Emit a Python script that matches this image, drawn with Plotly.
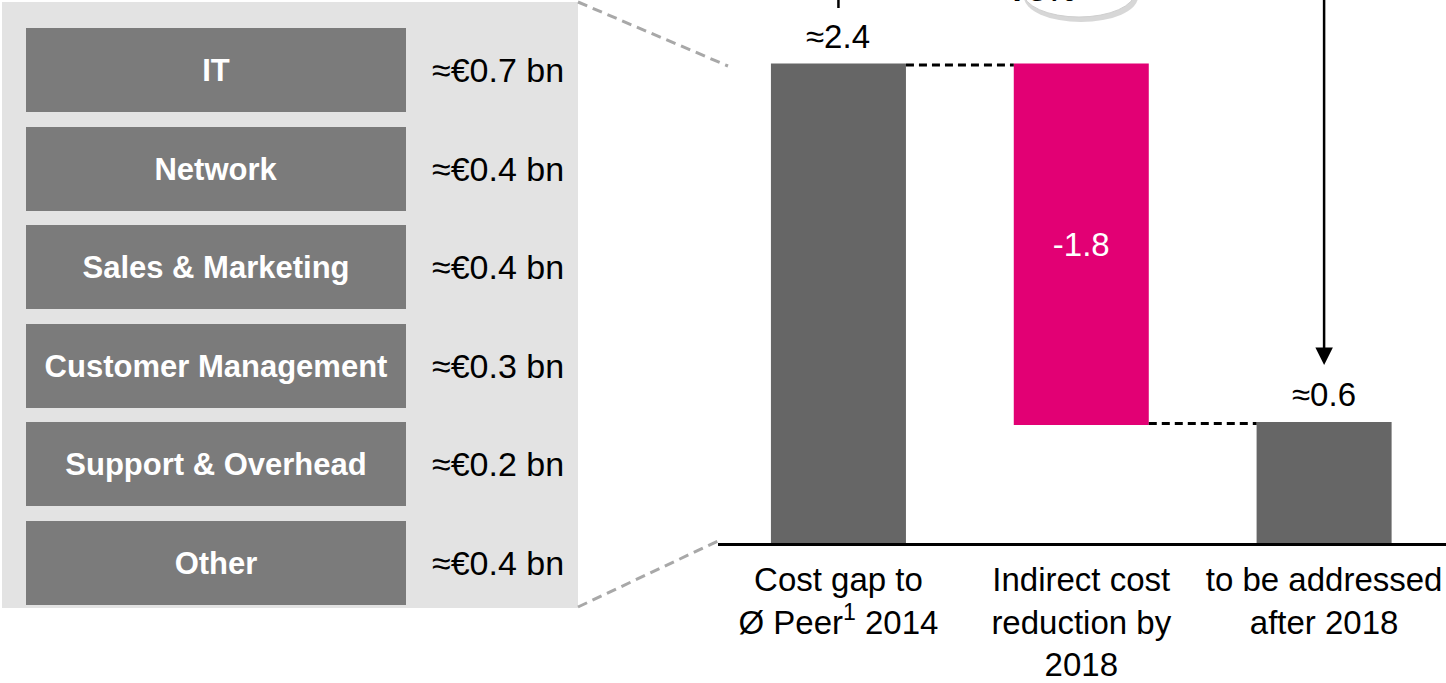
import plotly.graph_objects as go

# left panel: indirect cost gap by area
areas = ["IT", "Network", "Sales & Marketing", "Customer Management", "Support & Overhead", "Other"]
area_gap = ["≈€0.7 bn", "≈€0.4 bn", "≈€0.4 bn", "≈€0.3 bn", "≈€0.2 bn", "≈€0.4 bn"]

# right panel: waterfall (€ bn)
steps = ["Cost gap to<br>Ø Peer<sup>1</sup> 2014", "Indirect cost<br>reduction by<br>2018", "to be addressed<br>after 2018"]
step_values = [2.4, -1.8, 0.6]
step_measure = ["absolute", "relative", "total"]
step_labels = ["≈2.4", "-1.8", "≈0.6"]
share_label = "75%"

W, H = 1446, 683
FONT = "Liberation Sans, Arial, sans-serif"
GREY_BAR = "#666666"
MAGENTA = "#E20074"

fig = go.Figure()

# area tiles (equal size, one per area)
fig.add_trace(go.Bar(
    y=areas, x=[1] * len(areas), orientation="h",
    xaxis="x2", yaxis="y2", width=0.852,
    marker=dict(color="#7B7B7B", line=dict(width=0)),
    text=areas, textposition="inside", insidetextanchor="middle",
    textfont=dict(family=FONT, size=31, color="white", weight="bold"),
    hoverinfo="skip", showlegend=False,
))

fig.add_trace(go.Waterfall(
    x=steps, y=step_values, measure=step_measure,
    width=0.556,
    totals=dict(marker=dict(color=GREY_BAR)),
    decreasing=dict(marker=dict(color=MAGENTA)),
    increasing=dict(marker=dict(color=GREY_BAR)),
    connector=dict(mode="between", line=dict(color="black", width=3, dash="8px,5px")),
    text=step_labels, textposition=["none", "inside", "none"],
    insidetextanchor="middle",
    insidetextfont=dict(family=FONT, size=33, color="white"),
    hoverinfo="skip", showlegend=False,
))

annotations = []
for a, g in zip(areas, area_gap):
    annotations.append(dict(x=1.063, y=a, xref="x2", yref="y2", text=g,
                            showarrow=False, xanchor="left", yanchor="middle",
                            font=dict(family=FONT, size=34, color="black")))

# labels above the grey bars
tops = [step_values[0], None, sum(step_values[:2])]
for i in (0, 2):
    annotations.append(dict(x=steps[i], y=tops[i], xref="x", yref="y", text=step_labels[i],
                            showarrow=False, yanchor="bottom", yshift=8,
                            font=dict(family=FONT, size=33, color="black")))

# arrow down to remaining gap
annotations.append(dict(x=steps[2], y=0.894, xref="x", yref="y",
                        ax=steps[2], ay=2.85, axref="x", ayref="y",
                        text="", showarrow=True, arrowhead=2, arrowsize=1.4,
                        arrowwidth=2.5, arrowcolor="black", standoff=0))

# "75%" bubble (cut off at the top)
annotations.append(dict(x=1078 / W, y=1 + 10 / H, xref="paper", yref="paper", text="<b>" + share_label + "</b>",
                        showarrow=False, yanchor="middle",
                        font=dict(family=FONT, size=33, color="black")))

shapes = [
    # panel background
    dict(type="rect", xref="paper", yref="paper", x0=2 / W, x1=578 / W, y0=1 - 608 / H, y1=1 - 2 / H,
         fillcolor="#E3E3E3", line=dict(width=0), layer="below"),
    # zoom lines
    dict(type="line", xref="paper", yref="paper", x0=578 / W, y0=1 - 2 / H, x1=728 / W, y1=1 - 66 / H,
         line=dict(color="#A8A8A8", width=3, dash="10px,6px")),
    dict(type="line", xref="paper", yref="paper", x0=578 / W, y0=1 - 607 / H, x1=718 / W, y1=1 - 541 / H,
         line=dict(color="#A8A8A8", width=3, dash="10px,6px")),
    # bracket stub above first bar
    dict(type="line", xref="x", yref="paper", x0=steps[0], x1=steps[0], y0=1 - 8 / H, y1=1.01,
         line=dict(color="black", width=2.5)),
    # bubble shadow + bubble
    dict(type="circle", xref="paper", yref="paper", x0=1024 / W, x1=1138 / W, y0=1 - 22 / H, y1=1 + 28 / H,
         fillcolor="rgba(140,140,140,0.35)", line=dict(width=0)),
    dict(type="circle", xref="paper", yref="paper", x0=1023 / W, x1=1135 / W, y0=1 - 17 / H, y1=1 + 33 / H,
         fillcolor="white", line=dict(color="#CFCFCF", width=1)),
]

fig.update_layout(
    width=W, height=H,
    margin=dict(l=0, r=0, t=0, b=0),
    paper_bgcolor="white", plot_bgcolor="rgba(0,0,0,0)",
    font=dict(family=FONT, size=33, color="black"),
    bargap=0,
    xaxis=dict(domain=[718 / W, 1], range=[-0.496, 2.502], showline=True, linecolor="black",
               linewidth=3, ticks="", showgrid=False, zeroline=False, ticklabelstandoff=5,
               tickfont=dict(family=FONT, size=33, color="black"), fixedrange=True),
    yaxis=dict(domain=[(H - 543) / H, 1], range=[0, 543 / 199.2], visible=False, fixedrange=True),
    xaxis2=dict(domain=[0, 577 / W], range=[-26 / 380, 551 / 380], visible=False, anchor="y2"),
    yaxis2=dict(domain=[1 - 608 / H, 1 - 2 / H], range=[5.456, -0.690], visible=False, anchor="x2",
                type="category", categoryorder="array", categoryarray=areas),
    annotations=annotations,
    shapes=shapes,
)

fig.write_html("out.html", config={"displayModeBar": False},
               post_script="document.body.style.margin='0';")
